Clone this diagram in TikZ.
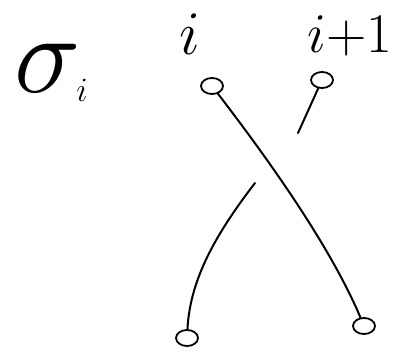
\RequirePackage{fix-cm}
\documentclass[tikz,border=0pt]{standalone}
\usetikzlibrary{shapes.geometric}
\begin{document}
\begin{tikzpicture}[x=1pt,y=-1pt,
  strand/.style={line width=2pt,line cap=round,line join=round},
  knot/.style={draw,line width=1.8pt,ellipse,minimum width=22pt,minimum height=16pt,inner sep=0pt},
  lbl/.style={inner sep=0pt,anchor=center}]
\useasboundingbox (0,0) rectangle (407,361);
% labels
\node[lbl] (sig) at (48,68) {\fontsize{112}{112}\selectfont$\sigma$};
\node[lbl] (sigi) at (82,90) {\fontsize{34}{34}\selectfont$i$};
\node[lbl] (li) at (190,34) {\fontsize{62}{62}\selectfont$i$};
\node[lbl] (lii) at (350,36) {\fontsize{56}{56}\selectfont$i{+}1$};
% endpoints
\node[knot] (t1) at (212,86) {};
\node[knot] (t2) at (322,80) {};
\node[knot] (b1) at (187,338) {};
\node[knot] (b2) at (364,326) {};
\coordinate (g1) at (298,133);
\coordinate (g2) at (255,183);
% strands
\draw[strand] (t1) .. controls (265,155) and (330,245) .. (b2);
\draw[strand] (t2) -- (g1);
\draw[strand] (g2) .. controls (215,235) and (190,280) .. (b1);
\end{tikzpicture}
\end{document}
